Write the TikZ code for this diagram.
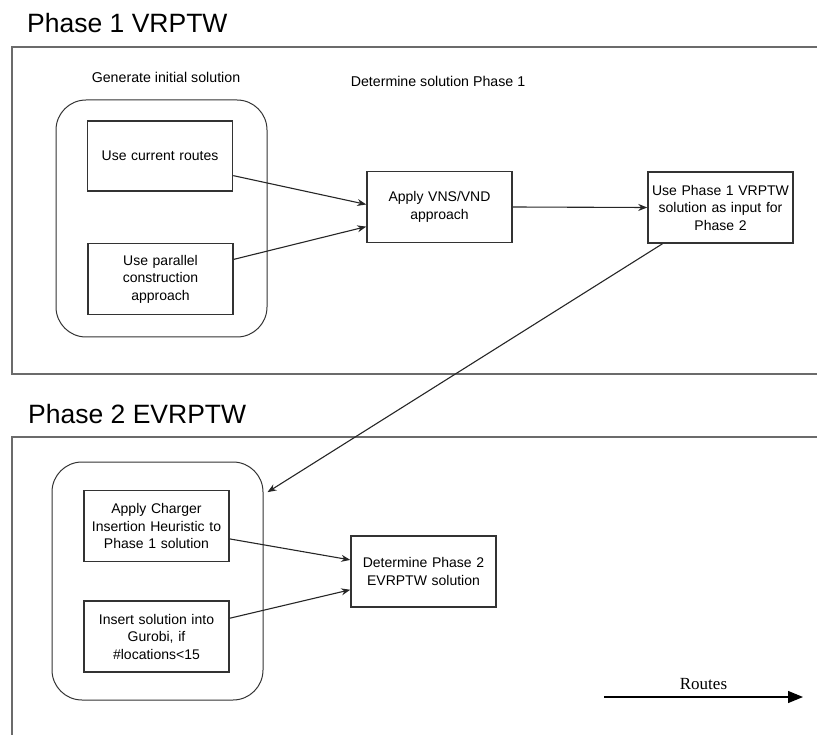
\documentclass[tikz,border=0pt]{standalone}
\usepackage{fontspec}
\setmainfont{Liberation Sans}
\newfontfamily\routesfont{Liberation Serif}
\usetikzlibrary{
	arrows.meta,
	positioning,
	calc
}

\tikzset{
	phaseframe/.style={draw=black!58, line width=2pt},
	phasetitle/.style={anchor=base west, inner sep=0pt, font=\fontsize{26.5}{31}\selectfont},
	grouplabel/.style={anchor=base, inner sep=0pt, font=\fontsize{14.2}{17}\selectfont},
	groupbox/.style={draw=black!80, line width=1pt, rounded corners=30pt},
	stepbox/.style={draw=black!80, line width=1.5pt, align=center, inner sep=2pt,
		minimum width=145pt, minimum height=71pt, text width=141pt,
		font=\fontsize{14}{17.5}\selectfont},
	flow/.style={-{Stealth[length=9pt,width=7pt]}, line width=1.1pt, draw=black!85},
	routesarrow/.style={-{Triangle[length=15pt,width=12pt]}, line width=1.2pt}
}

\begin{document}
\begin{tikzpicture}[x=1pt,y=-1pt]
		
		\useasboundingbox (0,0) rectangle (817,735);
		\clip (0,0) rectangle (817,735);
		
		% phase frames
		\draw[phaseframe] (12,47) rectangle (840,374);
		\draw[phaseframe] (12,437) rectangle (840,760);
		\node[phasetitle] (t1) at (27,33) {Phase 1 VRPTW};
		\node[phasetitle] (t2) at (28,423) {Phase 2 EVRPTW};
		
		% phase 1
		\node[grouplabel] (geninit) at (166,83) {Generate initial solution};
		\node[grouplabel] (detsol) at (438,87) {Determine solution Phase 1};
		\node[groupbox, minimum width=211pt, minimum height=237pt] (grp1) at (161.5,218.5) {};
		\node[stepbox, minimum width=144pt, minimum height=70pt] (cur) at (160,156) {Use current routes};
		\node[stepbox] (par) at (160.5,279) {Use parallel\\construction\\approach};
		\node[stepbox] (vns) at (439.5,207) {Apply VNS/VND\\approach};
		\node[stepbox] (p1out) at (720.5,207.5) {Use Phase 1 VRPTW\\solution as input for\\Phase 2};
		
		\draw[flow] (cur.-15) -- (vns.178);
		\draw[flow] (par.15) -- (vns.195);
		\draw[flow] (vns.east) -- (p1out.west);
		
		% phase 2
		\node[groupbox, minimum width=211pt, minimum height=238pt] (grp2) at (157.5,581) {};
		\node[stepbox] (chg) at (156.5,526) {Apply Charger\\Insertion Heuristic to\\Phase 1 solution};
		\node[stepbox] (gur) at (156.5,636.5) {Insert solution into\\Gurobi, if\\\#locations<15};
		\node[stepbox] (p2out) at (423.5,571.5) {Determine Phase 2\\EVRPTW solution};
		
		\draw[flow] (p1out.-148) -- ($(grp2.39)+(4,-3)$);
		\draw[flow] (chg.-10) -- (p2out.171);
		\draw[flow] (gur.14) -- (p2out.194);
		
		% legend
		\coordinate (rstart) at (604,697);
		\coordinate (rend) at (803,697);
		\draw[routesarrow] (rstart) -- node[above=3pt, font=\routesfont\fontsize{17}{20}\selectfont] (rlabel) {Routes} (rend);
		
	\end{tikzpicture}
\end{document}
